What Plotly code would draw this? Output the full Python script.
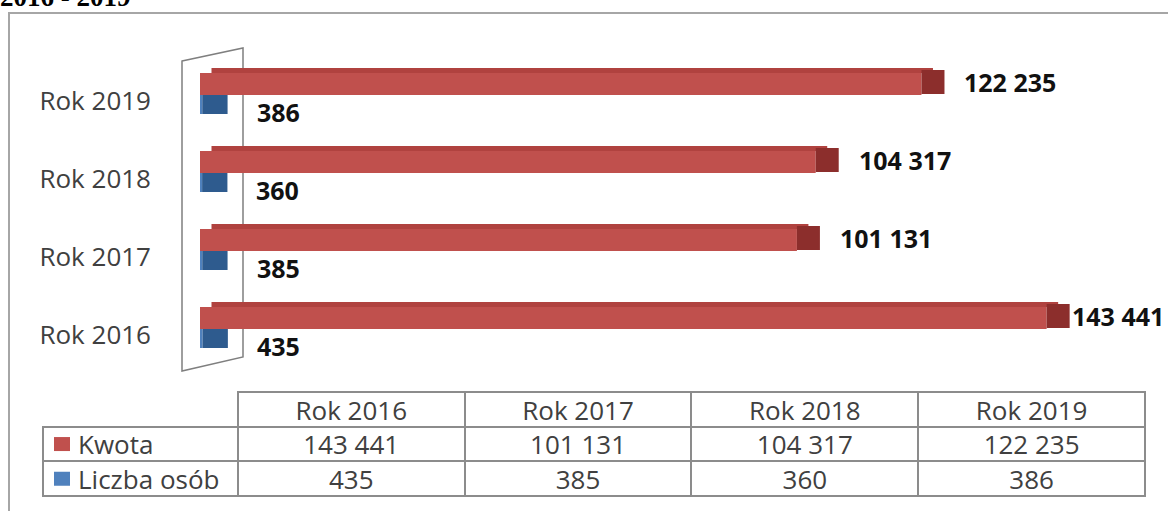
import plotly.graph_objects as go

# ---------------- data ----------------
categories = ["Rok 2016", "Rok 2017", "Rok 2018", "Rok 2019"]
kwota = [143441, 101131, 104317, 122235]
liczba = [435, 385, 360, 386]
kwota_labels = ["143 441", "101 131", "104 317", "122 235"]
liczba_labels = ["435", "385", "360", "386"]
series_names = ["Kwota", "Liczba osób"]
title_text = "2016 - 2019"

# ---------------- styling / geometry ----------------
W, H = 1168, 511
RED, RED_TOP, RED_SIDE = "#C0504D", "#B0423F", "#8C2E2C"
BLUE, BLUE_SIDE = "#4F81BD", "#2E5B8E"
GRAY = "#8C8C8C"
TXT = "#404040"
FONT = "Open Sans"

X0_PX, X1_PX = 200, 1168
XMAX = 164000
PPU = (X1_PX - X0_PX) / XMAX          # pixels per data unit
DEPTH = 23 / PPU                       # 3D depth in data units
CAT_PX = 78                            # pixels per category step
YR = [-0.6, 3.6]
Y_TOP_PX, Y_BOT_PX = 101 - 0.6 * CAT_PX, 335 + 0.6 * CAT_PX


def u(px):
    return px / CAT_PX


def fx(px):
    return px / W


def fy(py):
    return 1 - py / H


fig = go.Figure()

# red: top face, front face, side face
fig.add_trace(go.Bar(y=categories, x=kwota, base=[DEPTH * 0.5] * len(kwota), orientation="h",
                     offset=u(28), width=u(5), marker=dict(color=RED_TOP, line=dict(width=0)),
                     hoverinfo="skip", showlegend=False))
fig.add_trace(go.Bar(y=categories, x=kwota, orientation="h", name=series_names[0],
                     offset=u(6), width=u(22), marker=dict(color=RED, line=dict(width=0)),
                     showlegend=False))
fig.add_trace(go.Bar(y=categories, x=[DEPTH] * len(kwota), base=kwota, orientation="h",
                     offset=u(7), width=u(24), marker=dict(color=RED_SIDE, line=dict(width=0)),
                     hoverinfo="skip", showlegend=False))
# blue: front and side
fig.add_trace(go.Bar(y=categories, x=liczba, orientation="h", name=series_names[1],
                     offset=u(-13), width=u(19), marker=dict(color=BLUE, line=dict(width=0)),
                     showlegend=False))
fig.add_trace(go.Bar(y=categories, x=[DEPTH * 1.1] * len(liczba), base=liczba, orientation="h",
                     offset=u(-13), width=u(19), marker=dict(color=BLUE_SIDE, line=dict(width=0)),
                     hoverinfo="skip", showlegend=False))

# value labels
annotations = []
LBL_FONT = dict(family=FONT, size=25, color="#111111", weight="bold")
for i, c in enumerate(categories):
    end_px = X0_PX + (kwota[i] + DEPTH) * PPU
    pad = 18 if end_px + 18 + 100 < W else max(0, W - 100 - end_px)
    annotations.append(dict(x=kwota[i] + DEPTH, y=c, xref="x", yref="y", text=kwota_labels[i],
                            showarrow=False, xanchor="left", yanchor="middle", xshift=pad, yshift=19,
                            font=LBL_FONT))
    annotations.append(dict(x=liczba[i] + DEPTH * 1.1, y=c, xref="x", yref="y", text=liczba_labels[i],
                            showarrow=False, xanchor="left", yanchor="middle", xshift=27, yshift=-11,
                            font=LBL_FONT))

# clipped title at the very top
annotations.append(dict(x=0, y=fy(14), xref="paper", yref="paper", text="<b>" + title_text + "</b>",
                        showarrow=False, xanchor="left", yanchor="bottom", xshift=-2,
                        font=dict(family="Liberation Serif", size=27, color="#000000")))

# data table below the chart
NB = "\u00a0" * 4
col0 = ["", NB + series_names[0], NB + series_names[1]]
cols = [col0] + [[categories[i], kwota_labels[i], liczba_labels[i]] for i in range(len(categories))]
line_colors = [["white", GRAY, GRAY]] + [[GRAY, GRAY, GRAY] for _ in categories]
aligns = ["left"] + ["center"] * len(categories)
ROW_H = 34.7
TABLE_TOP = 392

fig.add_trace(go.Table(
    domain=dict(x=[fx(43), fx(1145)], y=[fy(500), fy(TABLE_TOP)]),
    columnwidth=[195] + [227] * len(categories),
    header=dict(values=[""] * 5, height=0, line=dict(width=0), fill=dict(color="rgba(0,0,0,0)"),
                font=dict(size=1)),
    cells=dict(values=cols, height=ROW_H, align=aligns,
               line=dict(color=line_colors, width=2),
               fill=dict(color="white"),
               font=dict(family=FONT, size=26, color=TXT)),
))

shapes = [
    # outer frame
    dict(type="rect", xref="paper", yref="paper", x0=fx(9), y0=fy(13), x1=1.05, y1=-0.1,
         line=dict(color="#A6A6A6", width=2), fillcolor="rgba(0,0,0,0)", layer="below"),
    # 3D wall
    dict(type="path", xref="paper", yref="paper",
         path=(f"M {fx(182)} {fy(61)} L {fx(243)} {fy(48)} L {fx(243)} {fy(357)} "
               f"L {fx(182)} {fy(371)} Z"),
         line=dict(color="#7F7F7F", width=1.5), fillcolor="rgba(0,0,0,0)", layer="below"),
]
# legend keys in the table's first column
for k, col in enumerate([RED, BLUE]):
    cy = TABLE_TOP + ROW_H * (k + 1.5)
    shapes.append(dict(type="rect", xref="paper", yref="paper", x0=fx(54), x1=fx(70),
                       y0=fy(cy - 7), y1=fy(cy + 7), line=dict(width=0), fillcolor=col))

fig.update_layout(
    width=W, height=H,
    margin=dict(l=0, r=0, t=0, b=0),
    paper_bgcolor="white", plot_bgcolor="rgba(0,0,0,0)",
    barmode="overlay",
    showlegend=False,
    xaxis=dict(domain=[fx(X0_PX), fx(X1_PX)], range=[0, XMAX], visible=False, fixedrange=True),
    yaxis=dict(domain=[fy(Y_BOT_PX), fy(Y_TOP_PX)], range=YR, type="category",
               categoryorder="array", categoryarray=categories,
               showgrid=False, zeroline=False, showline=False, ticks="",
               ticklabelstandoff=48,
               tickfont=dict(family=FONT, size=26, color=TXT), fixedrange=True),
    annotations=annotations,
    shapes=shapes,
)

fig.write_html("out.html", config={"displayModeBar": False},
               post_script="document.body.style.margin='0';document.body.style.overflow='hidden';")
